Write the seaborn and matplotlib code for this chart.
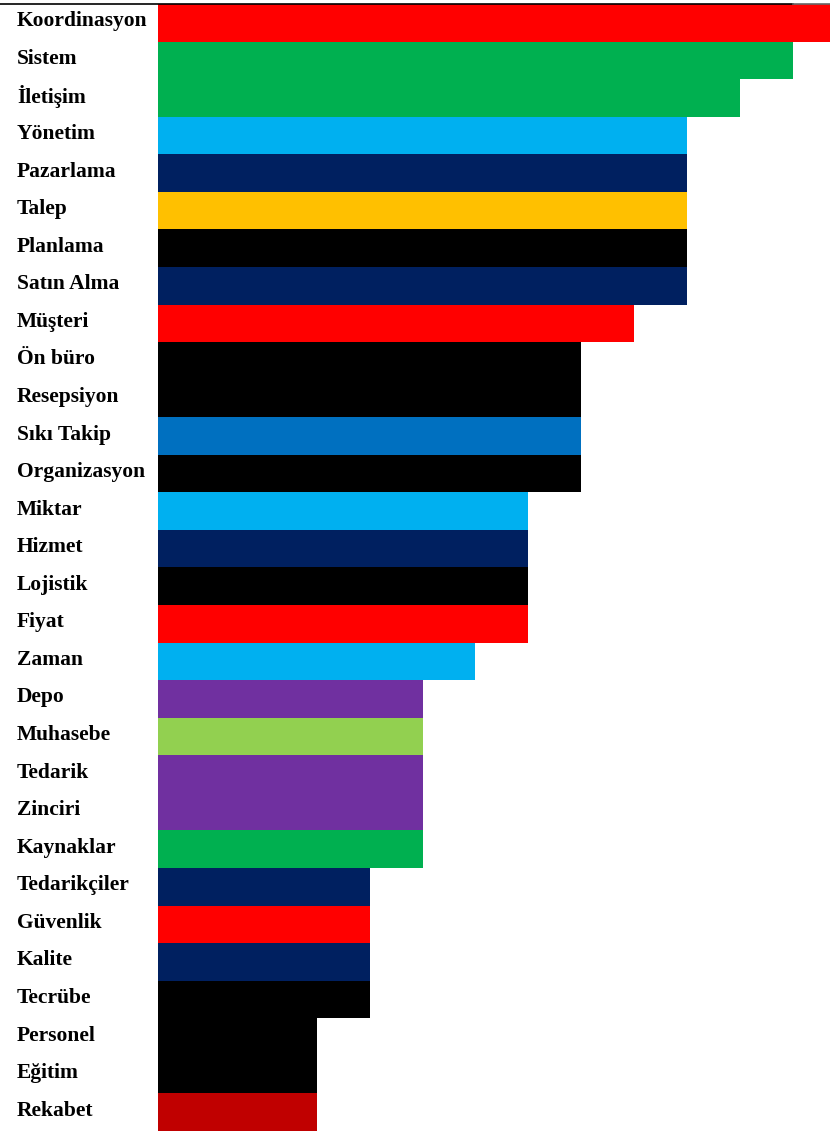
import matplotlib
matplotlib.use("Agg")
import matplotlib.pyplot as plt
import seaborn as sns
import pandas as pd
from matplotlib.lines import Line2D
from matplotlib.transforms import ScaledTranslation

categories = ["Koordinasyon", "Sistem", "İletişim", "Yönetim", "Pazarlama", "Talep",
              "Planlama", "Satın Alma", "Müşteri", "Ön büro", "Resepsiyon", "Sıkı Takip",
              "Organizasyon", "Miktar", "Hizmet", "Lojistik", "Fiyat", "Zaman", "Depo",
              "Muhasebe", "Tedarik", "Zinciri", "Kaynaklar", "Tedarikçiler", "Güvenlik",
              "Kalite", "Tecrübe", "Personel", "Eğitim", "Rekabet"]
values = [13, 12, 11, 10, 10, 10, 10, 10, 9, 8, 8, 8, 8, 7, 7, 7, 7, 6, 5, 5, 5, 5, 5,
          4, 4, 4, 4, 3, 3, 3]
colors = ["#FF0000", "#00B050", "#00B050", "#00B0F0", "#002060", "#FFC000", "#000000",
          "#002060", "#FF0000", "#000000", "#000000", "#0070C0", "#000000", "#00B0F0",
          "#002060", "#000000", "#FF0000", "#00B0F0", "#7030A0", "#92D050", "#7030A0",
          "#7030A0", "#00B050", "#002060", "#FF0000", "#002060", "#000000", "#000000",
          "#000000", "#C00000"]

df = pd.DataFrame({"cat": categories, "val": values})

W, H, DPI = 830, 1131, 100
fig = plt.figure(figsize=(W / DPI, H / DPI), dpi=DPI)
ax = fig.add_axes([158 / W, 0 / H, 1 - 158 / W, (1131 - 4) / H])

sns.barplot(data=df, y="cat", x="val", hue="cat", palette=colors, order=categories,
            hue_order=categories, width=1.0, linewidth=0, legend=False, ax=ax,
            saturation=1)

ax.set_xlim(0, 12.7)
ax.set_ylim(len(categories) - 0.5, -0.5)
for s in ax.spines.values():
    s.set_visible(False)
ax.set_xticks([])
ax.set_xlabel("")
ax.set_ylabel("")
ax.tick_params(axis="y", length=0, pad=(158 - 17) / DPI * 72)
shift = ScaledTranslation(0, 4 / DPI, fig.dpi_scale_trans)
for lbl in ax.get_yticklabels():
    lbl.set_horizontalalignment("left")
    lbl.set_fontfamily("Liberation Serif")
    lbl.set_fontweight("bold")
    lbl.set_fontsize(15.5)
    lbl.set_transform(lbl.get_transform() + shift)

y_line = 1 - 3.5 / H
fig.add_artist(Line2D([0, 793 / W], [y_line, y_line], color="black",
                      linewidth=1.2, transform=fig.transFigure))
fig.add_artist(Line2D([793 / W, 1], [y_line, y_line], color="#666666",
                      linewidth=1.2, transform=fig.transFigure))

fig.savefig("out.png", dpi=DPI)
